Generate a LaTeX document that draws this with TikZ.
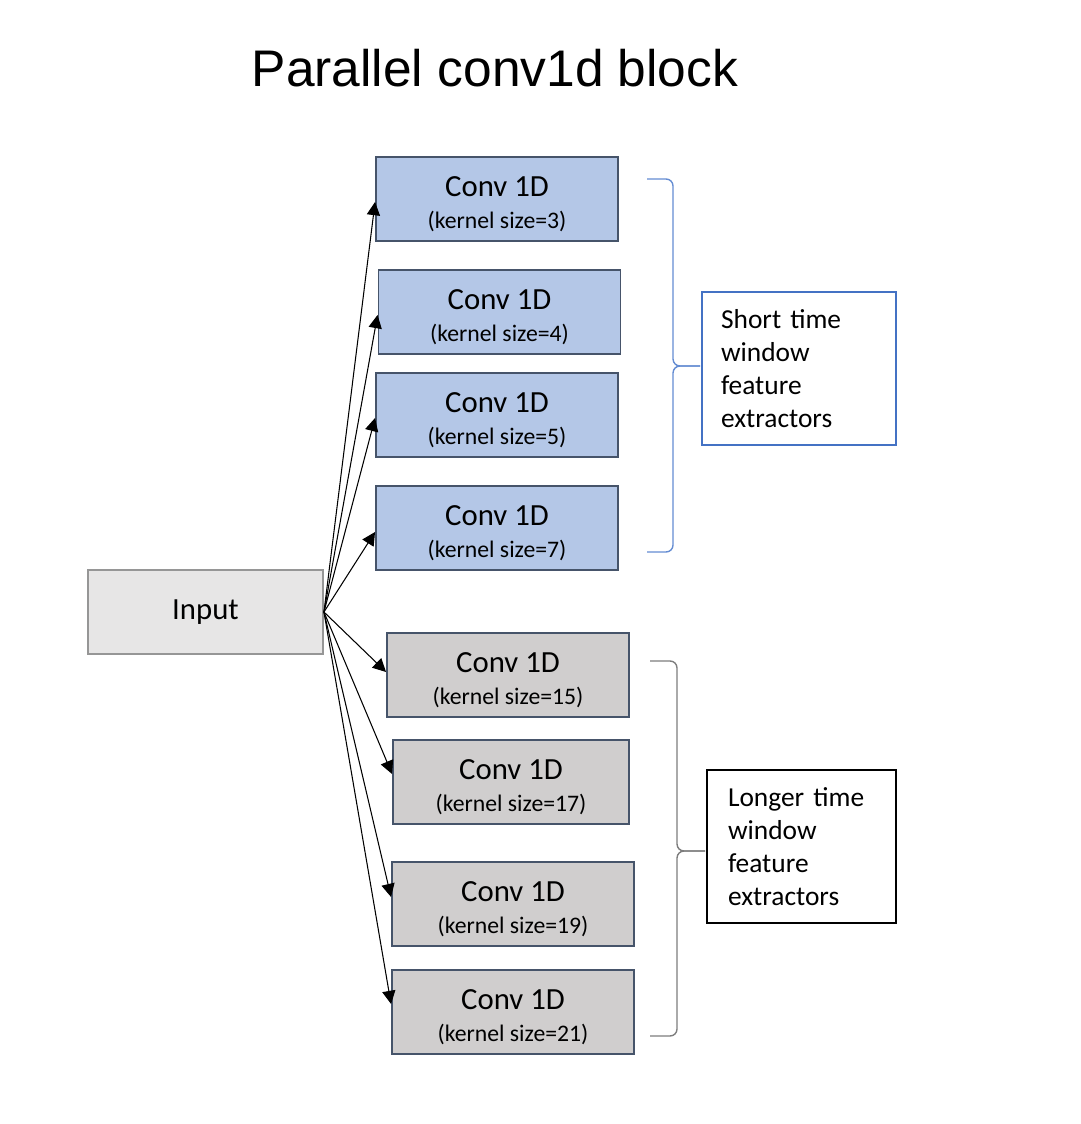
\documentclass[tikz,border=0pt]{standalone}
\usepackage{fontspec}
\setmainfont{Carlito}
\newfontfamily\titlefont{Liberation Sans}
\usetikzlibrary{arrows.meta}
\definecolor{convblue}{RGB}{180,199,231}
\definecolor{convgray}{RGB}{208,206,206}
\definecolor{inputgray}{RGB}{231,230,230}
\definecolor{boxedge}{RGB}{70,84,106}
\definecolor{inputedge}{RGB}{150,150,150}
\definecolor{officeblue}{RGB}{68,114,196}
\definecolor{braceblue}{RGB}{100,140,210}
\definecolor{bracegray}{RGB}{125,125,125}
\newcommand{\convtext}[1]{\rule{0pt}{17.5pt}Conv 1D\\[-2.5pt]{\fontsize{13.5}{16}\selectfont (kernel size=#1)}}
\begin{document}
\begin{tikzpicture}[x=0.02cm,y=-0.02cm,
  convbox/.style={draw=boxedge,line width=1.1pt,minimum width=4.84cm,minimum height=1.68cm,
    align=center,inner sep=0pt,font=\fontsize{17.5}{21}\selectfont},
  shortconv/.style={convbox,fill=convblue},
  longconv/.style={convbox,fill=convgray},
  feed/.style={-{Triangle[length=7.5pt,width=7.5pt]},line width=0.6pt},
  notebox/.style={line width=1.1pt,minimum height=3.06cm,align=left,
    font=\fontsize{15.6}{18.8}\selectfont},
  bracket/.style={rounded corners=0.14cm,line width=0.8pt}]
\useasboundingbox (0,0) rectangle (1080,1124);

\node[font=\titlefont\fontsize{29.3}{34}\selectfont] (title) at (495,68) {Parallel conv1d block};

\node[draw=inputedge,fill=inputgray,line width=1.1pt,minimum width=4.7cm,minimum height=1.68cm,
  font=\fontsize{17.5}{21}\selectfont] (input) at (205.5,612) {Input};

\node[shortconv] (k3) at (497,199) {\convtext{3}};
\node[shortconv] (k4) at (499.5,312) {\convtext{4}};
\node[shortconv] (k5) at (497,415) {\convtext{5}};
\node[shortconv] (k7) at (497,528) {\convtext{7}};

\node[longconv] (k15) at (508,675) {\convtext{15}};
\node[longconv,minimum width=4.72cm] (k17) at (511,782) {\convtext{17}};
\node[longconv] (k19) at (513,904) {\convtext{19}};
\node[longconv] (k21) at (513,1012) {\convtext{21}};

\draw[feed] (input.east) -- ([yshift=-0.06cm]k3.west);
\draw[feed] (input.east) -- ([yshift=-0.06cm]k4.west);
\draw[feed] (input.east) -- ([yshift=-0.06cm]k5.west);
\draw[feed] (input.east) -- ([yshift=-0.08cm]k7.west);
\draw[feed] (input.east) -- ([yshift=0.06cm]k15.west);
\draw[feed] (input.east) -- ([yshift=0.16cm]k17.west);
\draw[feed] (input.east) -- ([yshift=0.14cm]k19.west);
\draw[feed] (input.east) -- ([yshift=0.16cm]k21.west);

% braces round the two groups
\coordinate (shorttop) at (647,179);
\coordinate (shortbot) at (647,552);
\coordinate (shorttip) at (700,366);
\coordinate (longtop) at (650,661);
\coordinate (longbot) at (650,1036);
\coordinate (longtip) at (705,851);
\draw[bracket,draw=braceblue] (shorttop) -| ([xshift=-0.54cm]shorttip) -- (shorttip);
\draw[bracket,draw=braceblue] (shortbot) -| ([xshift=-0.54cm]shorttip) -- (shorttip);
\draw[bracket,draw=bracegray] (longtop) -| ([xshift=-0.56cm]longtip) -- (longtip);
\draw[bracket,draw=bracegray] (longbot) -| ([xshift=-0.56cm]longtip) -- (longtip);

\node[notebox,draw=officeblue,text width=3.12cm,inner xsep=0.38cm] (shortnote) at (799,368.5)
  {Short time\\window\\feature\\extractors};
\node[notebox,draw=black,text width=2.94cm,inner xsep=0.42cm] (longnote) at (801.5,846.5)
  {Longer time\\window\\feature\\extractors};
\end{tikzpicture}
\end{document}
